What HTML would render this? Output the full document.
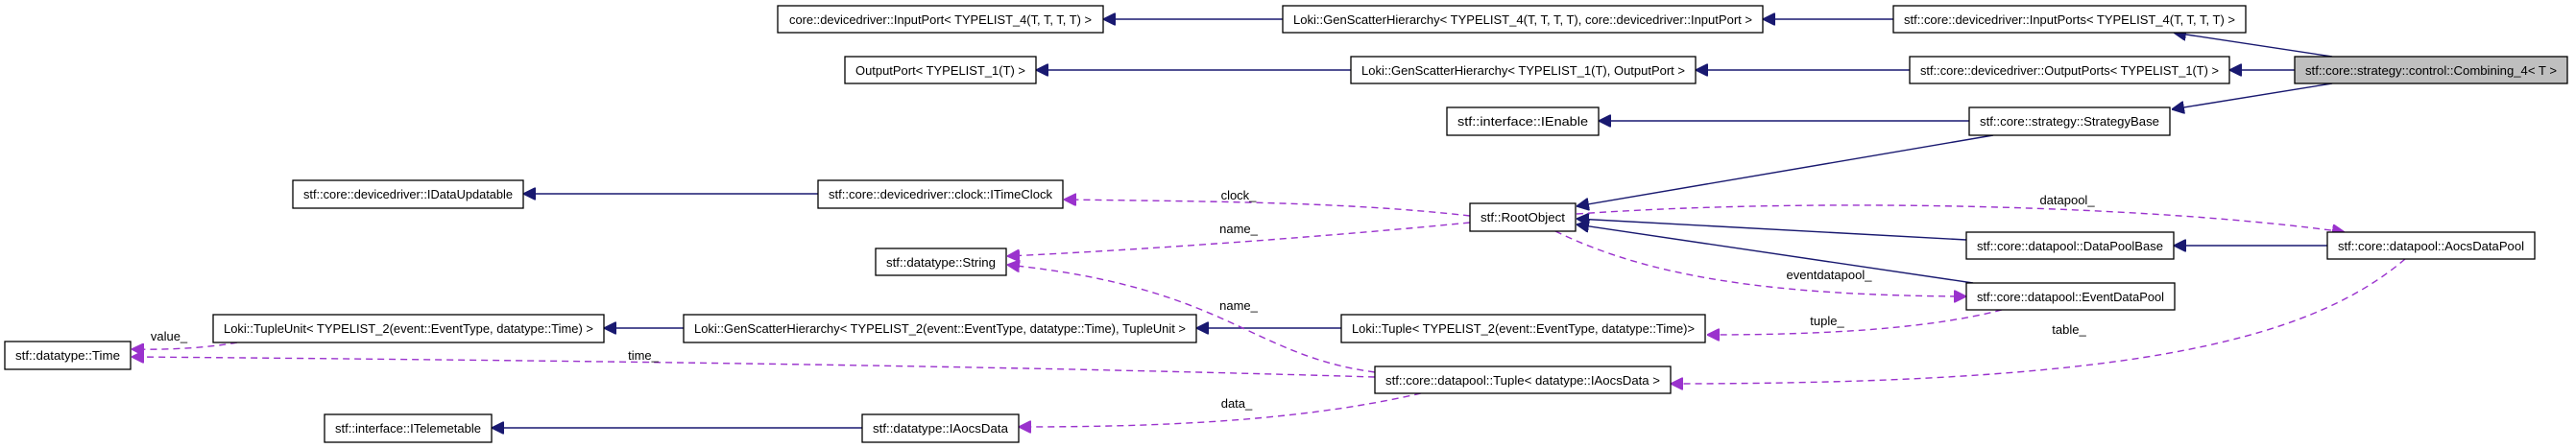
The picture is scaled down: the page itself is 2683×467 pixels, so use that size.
<!DOCTYPE html>
<html><head><meta charset="utf-8"><style>
html,body{margin:0;padding:0;background:#fff;width:2683px;height:467px;overflow:hidden}
svg text{font-family:"Liberation Sans Narrow","Liberation Sans",sans-serif;font-size:13px;fill:#000}
.b{fill:#fff;stroke:#000;stroke-width:1.3}
.s{fill:none;stroke:#191970;stroke-width:1.4}
.d{fill:none;stroke:#9a32cd;stroke-width:1.4;stroke-dasharray:7,5}
.ah{fill:#191970;stroke:#191970}
.ap{fill:#9a32cd;stroke:#9a32cd}
</style></head><body>
<svg width="2683" height="467" viewBox="0 0 2683 467" xmlns="http://www.w3.org/2000/svg">
<defs>
<marker id="mn" viewBox="0 0 10 10" refX="10" refY="5" markerWidth="13" markerHeight="13" markerUnits="userSpaceOnUse" orient="auto"><path d="M0,0 L10,5 L0,10 z" class="ah"/></marker>
<marker id="mp" viewBox="0 0 10 10" refX="10" refY="5" markerWidth="13" markerHeight="13" markerUnits="userSpaceOnUse" orient="auto"><path d="M0,0 L10,5 L0,10 z" class="ap"/></marker>
</defs>
<!-- solid edges -->
<g marker-end="url(#mn)">
<path class="s" d="M1336,20 L1149,20"/>
<path class="s" d="M1972,20 L1836,20"/>
<path class="s" d="M2429,59 L2264,34"/>
<path class="s" d="M2390,73 L2322,73"/>
<path class="s" d="M1989,73 L1766,73"/>
<path class="s" d="M1407,73 L1079,73"/>
<path class="s" d="M2429,87 L2262,114"/>
<path class="s" d="M2051,126 L1665,126"/>
<path class="s" d="M2076,141 L1642,215"/>
<path class="s" d="M2048,250 L1642,228"/>
<path class="s" d="M2055,295 L1642,234"/>
<path class="s" d="M2424,256 L2264,256"/>
<path class="s" d="M852,202 L545,202"/>
<path class="s" d="M712,342 L629,342"/>
<path class="s" d="M1397,342 L1246,342"/>
<path class="s" d="M898,446 L512,446"/>
</g>
<!-- dashed edges -->
<g marker-end="url(#mp)">
<path class="d" d="M1531,225 C1400,210 1250,210 1108,208"/>
<path class="d" d="M1531,232 C1400,245 1200,260 1049,267"/>
<path class="d" d="M1642,223 C1900,205 2250,215 2442,242"/>
<path class="d" d="M1620,241 C1720,290 1850,308 2048,309"/>
<path class="d" d="M2085,323 C2000,345 1880,349 1778,349"/>
<path class="d" d="M2505,270 C2400,360 2200,400 1740,400"/>
<path class="d" d="M1432,388 C1300,370 1280,300 1049,276"/>
<path class="d" d="M1432,393 C1000,380 500,375 137,372"/>
<path class="d" d="M1480,410 C1350,440 1200,445 1061,445"/>
<path class="d" d="M247,357 C220,362 180,365 137,364"/>
</g>
<!-- edge labels -->
<text x="1290" y="208" text-anchor="middle">clock_</text>
<text x="1290" y="243" text-anchor="middle">name_</text>
<text x="1290" y="323" text-anchor="middle">name_</text>
<text x="1288" y="425" text-anchor="middle">data_</text>
<text x="176" y="355" text-anchor="middle">value_</text>
<text x="670" y="375" text-anchor="middle">time_</text>
<text x="2153" y="213" text-anchor="middle">datapool_</text>
<text x="1905" y="291" text-anchor="middle">eventdatapool_</text>
<text x="1903" y="339" text-anchor="middle">tuple_</text>
<text x="2155" y="348" text-anchor="middle">table_</text>
<!-- nodes -->
<g>
<rect class="b" x="810" y="6" width="339" height="28"/><text x="979.5" y="25" text-anchor="middle" textLength="315" lengthAdjust="spacingAndGlyphs">core::devicedriver::InputPort&lt; TYPELIST_4(T, T, T, T) &gt;</text>
<rect class="b" x="1336" y="6" width="500" height="28"/><text x="1586" y="25" text-anchor="middle" textLength="478" lengthAdjust="spacingAndGlyphs">Loki::GenScatterHierarchy&lt; TYPELIST_4(T, T, T, T), core::devicedriver::InputPort &gt;</text>
<rect class="b" x="1972" y="6" width="367" height="28"/><text x="2155.5" y="25" text-anchor="middle" textLength="345" lengthAdjust="spacingAndGlyphs">stf::core::devicedriver::InputPorts&lt; TYPELIST_4(T, T, T, T) &gt;</text>
<rect class="b" x="880" y="59" width="199" height="28"/><text x="979.5" y="78" text-anchor="middle" textLength="177" lengthAdjust="spacingAndGlyphs">OutputPort&lt; TYPELIST_1(T) &gt;</text>
<rect class="b" x="1407" y="59" width="359" height="28"/><text x="1586.5" y="78" text-anchor="middle" textLength="337" lengthAdjust="spacingAndGlyphs">Loki::GenScatterHierarchy&lt; TYPELIST_1(T), OutputPort &gt;</text>
<rect class="b" x="1989" y="59" width="333" height="28"/><text x="2155.5" y="78" text-anchor="middle" textLength="311" lengthAdjust="spacingAndGlyphs">stf::core::devicedriver::OutputPorts&lt; TYPELIST_1(T) &gt;</text>
<rect x="2390" y="59" width="284" height="28" fill="#bfbfbf" stroke="#000" stroke-width="1.3"/><text x="2532" y="78" text-anchor="middle" textLength="262" lengthAdjust="spacingAndGlyphs">stf::core::strategy::control::Combining_4&lt; T &gt;</text>
<rect class="b" x="1507" y="112" width="158" height="29"/><text x="1586" y="131" text-anchor="middle" textLength="136" lengthAdjust="spacingAndGlyphs">stf::interface::IEnable</text>
<rect class="b" x="2051" y="112" width="209" height="29"/><text x="2155.5" y="131" text-anchor="middle" textLength="187" lengthAdjust="spacingAndGlyphs">stf::core::strategy::StrategyBase</text>
<rect class="b" x="305" y="188" width="240" height="29"/><text x="425" y="207" text-anchor="middle" textLength="218" lengthAdjust="spacingAndGlyphs">stf::core::devicedriver::IDataUpdatable</text>
<rect class="b" x="852" y="188" width="255" height="29"/><text x="979.5" y="207" text-anchor="middle" textLength="233" lengthAdjust="spacingAndGlyphs">stf::core::devicedriver::clock::ITimeClock</text>
<rect class="b" x="1531" y="212" width="110" height="29"/><text x="1586" y="231" text-anchor="middle" textLength="88" lengthAdjust="spacingAndGlyphs">stf::RootObject</text>
<rect class="b" x="2048" y="242" width="216" height="28"/><text x="2156" y="261" text-anchor="middle" textLength="194" lengthAdjust="spacingAndGlyphs">stf::core::datapool::DataPoolBase</text>
<rect class="b" x="2424" y="242" width="216" height="28"/><text x="2532" y="261" text-anchor="middle" textLength="194" lengthAdjust="spacingAndGlyphs">stf::core::datapool::AocsDataPool</text>
<rect class="b" x="912" y="259" width="136" height="28"/><text x="980" y="278" text-anchor="middle" textLength="114" lengthAdjust="spacingAndGlyphs">stf::datatype::String</text>
<rect class="b" x="2048" y="295" width="217" height="28"/><text x="2156.5" y="314" text-anchor="middle" textLength="195" lengthAdjust="spacingAndGlyphs">stf::core::datapool::EventDataPool</text>
<rect class="b" x="222" y="328" width="407" height="29"/><text x="425.5" y="347" text-anchor="middle" textLength="385" lengthAdjust="spacingAndGlyphs">Loki::TupleUnit&lt; TYPELIST_2(event::EventType, datatype::Time) &gt;</text>
<rect class="b" x="712" y="328" width="534" height="29"/><text x="979" y="347" text-anchor="middle" textLength="512" lengthAdjust="spacingAndGlyphs">Loki::GenScatterHierarchy&lt; TYPELIST_2(event::EventType, datatype::Time), TupleUnit &gt;</text>
<rect class="b" x="1397" y="328" width="379" height="29"/><text x="1586.5" y="347" text-anchor="middle" textLength="357" lengthAdjust="spacingAndGlyphs">Loki::Tuple&lt; TYPELIST_2(event::EventType, datatype::Time)&gt;</text>
<rect class="b" x="5" y="356" width="131" height="29"/><text x="70.5" y="375" text-anchor="middle" textLength="109" lengthAdjust="spacingAndGlyphs">stf::datatype::Time</text>
<rect class="b" x="1432" y="382" width="308" height="28"/><text x="1586" y="401" text-anchor="middle" textLength="286" lengthAdjust="spacingAndGlyphs">stf::core::datapool::Tuple&lt; datatype::IAocsData &gt;</text>
<rect class="b" x="338" y="432" width="174" height="29"/><text x="425" y="451" text-anchor="middle" textLength="152" lengthAdjust="spacingAndGlyphs">stf::interface::ITelemetable</text>
<rect class="b" x="898" y="432" width="163" height="29"/><text x="979.5" y="451" text-anchor="middle" textLength="141" lengthAdjust="spacingAndGlyphs">stf::datatype::IAocsData</text>
</g>
</svg>
</body></html>
